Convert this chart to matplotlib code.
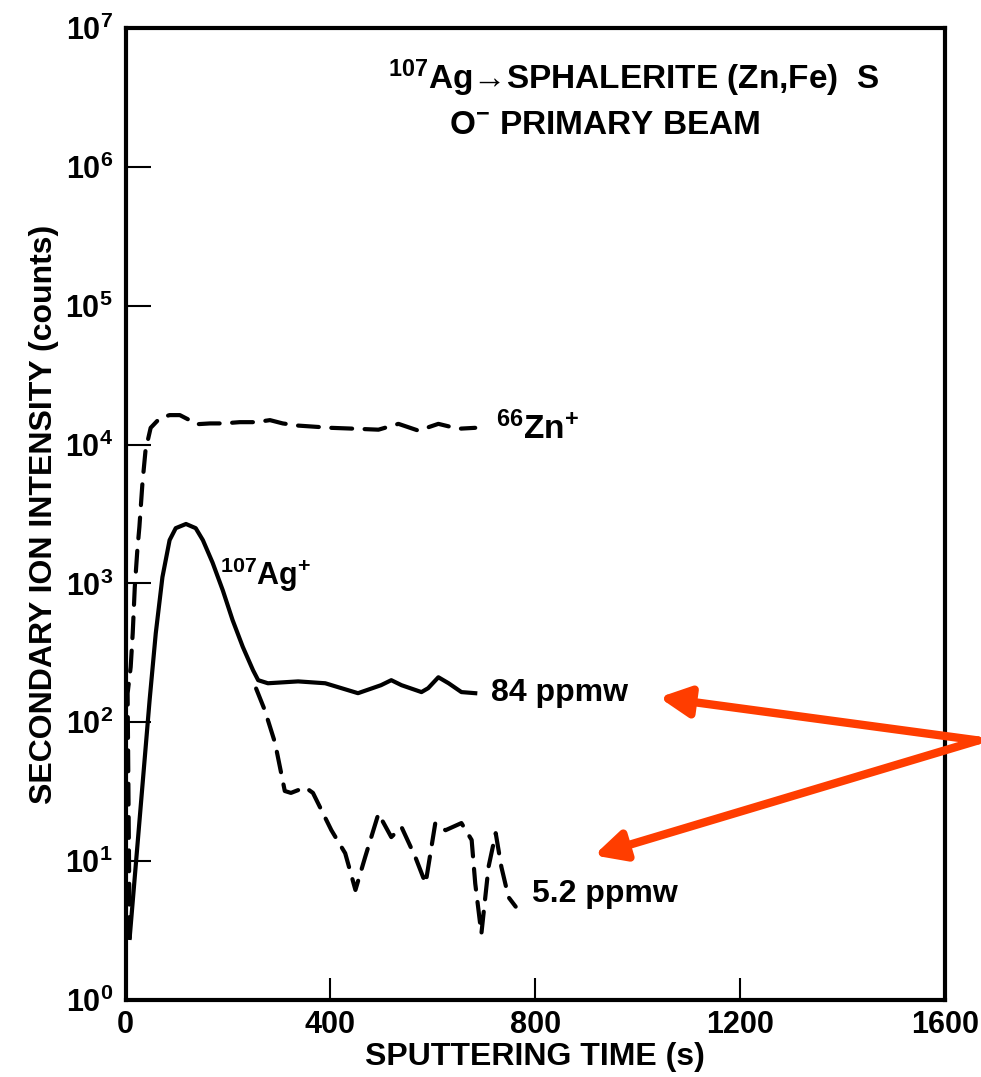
import matplotlib
matplotlib.use('Agg')
import matplotlib.pyplot as plt

plt.rcParams['font.family'] = ['Liberation Sans', 'DejaVu Sans']
plt.rcParams['font.weight'] = 'bold'
plt.rcParams['mathtext.fontset'] = 'custom'
plt.rcParams['mathtext.rm'] = 'Liberation Sans:bold'
plt.rcParams['mathtext.it'] = 'Liberation Sans:bold'
plt.rcParams['mathtext.bf'] = 'Liberation Sans:bold'

# 66Zn+ matrix signal (dashed)
zn_time = [8, 4, 10, 14, 18, 23, 27, 33, 39, 49, 67, 86, 106, 125, 137, 165,
           190, 223, 255, 282, 307, 337, 401, 450, 494, 533, 572, 611, 650,
           683]
zn_counts = [2.8, 162, 250, 440, 940, 1740, 2550, 5300, 9100, 13200, 15500,
             16300, 16300, 15000, 14000, 14200, 14200, 14500, 14500, 15000,
             14200, 13700, 13200, 13000, 12800, 14100, 12600, 14100, 13000,
             13200]

# 107Ag+ at 84 ppmw (solid)
ag84_time = [8, 47, 59, 72, 86, 98, 118, 137, 151, 170, 190, 209, 229, 249,
             259, 278, 337, 390, 454, 499, 519, 539, 578, 591, 611, 631, 656,
             683]
ag84_counts = [2.8, 145, 438, 1110, 2050, 2500, 2680, 2500, 2050, 1410, 890,
               545, 349, 237, 201, 191, 197, 191, 162, 185, 201, 185, 165, 176,
               211, 191, 165, 162]

# 107Ag+ at 5.2 ppmw (dashed)
ag5_time = [255, 272, 292, 311, 323, 351, 366, 402, 429, 449, 468, 494, 519,
            539, 566, 586, 605, 625, 656, 676, 683, 695, 709, 723, 734, 748,
            762]
ag5_counts = [175, 122, 71, 32, 31, 34, 31, 16.7, 11.4, 6.2, 10.7, 22, 14.9,
              17.6, 10.7, 6.9, 18.8, 16.7, 18.8, 14.2, 6.9, 3.0, 9.1, 15.9,
              9.1, 5.5, 4.7]

x_ticks = [0, 400, 800, 1200, 1600]
y_ticks = [1, 10, 100, 1000, 1e4, 1e5, 1e6, 1e7]
y_labels = ['$10^{%d}$' % i for i in range(8)]

fig = plt.figure(figsize=(9.81, 10.77), dpi=100)
ax = fig.add_axes([0.128, 0.0715, 0.835, 0.9025])

style = dict(color='k', lw=3, solid_joinstyle='round', dash_joinstyle='round',
             dash_capstyle='round')
ax.plot(zn_time, zn_counts, dashes=(5, 3), **style)
ax.plot(ag84_time, ag84_counts, **style)
ax.plot(ag5_time, ag5_counts, dashes=(5, 3), **style)

ax.set_yscale('log')
ax.set_xlim(0, 1600)
ax.set_ylim(1, 1e7)
ax.set_xticks(x_ticks)
ax.set_xticklabels([str(t) for t in x_ticks])
ax.set_yticks(y_ticks)
ax.set_yticklabels(y_labels)
ax.minorticks_off()
ax.tick_params(axis='y', direction='in', length=18, width=1.5, pad=9,
               labelsize=22)
ax.tick_params(axis='x', direction='in', length=16, width=1.5, pad=7,
               labelsize=22)
for s in ax.spines.values():
    s.set_linewidth(3)

ax.set_xlabel('SPUTTERING TIME (s)', fontsize=23, fontweight='bold', labelpad=2)
ax.set_ylabel('SECONDARY ION INTENSITY (counts)', fontsize=23,
              fontweight='bold', labelpad=4)

# curve labels
ax.text(723, 13000, r'$^{66}$Zn$^{+}$', fontsize=24, va='center', ha='left')
ax.text(184, 1150, r'$^{107}$Ag$^{+}$', fontsize=22, va='center', ha='left')
ax.text(713, 162, '84 ppmw', fontsize=23, va='center', ha='left')
ax.text(793, 5.8, '5.2 ppmw', fontsize=23, va='center', ha='left')

ax.text(0.62, 0.948, r'$^{107}$Ag→SPHALERITE (Zn,Fe)  S', transform=ax.transAxes,
        fontsize=24, ha='center', va='center')
ax.text(0.585, 0.90, r'O$^{-}$ PRIMARY BEAM', transform=ax.transAxes,
        fontsize=24, ha='center', va='center')

# red pointer arrows
red = '#FF3D00'
for tip in [(1042, 151), (915, 11.0)]:
    ax.annotate('', xy=tip, xytext=(1665, 74), annotation_clip=False,
                arrowprops=dict(arrowstyle='-|>,head_length=0.6,head_width=0.3',
                                mutation_scale=30, color=red, lw=6,
                                shrinkA=0, shrinkB=0))

fig.savefig('out.png', dpi=100)
